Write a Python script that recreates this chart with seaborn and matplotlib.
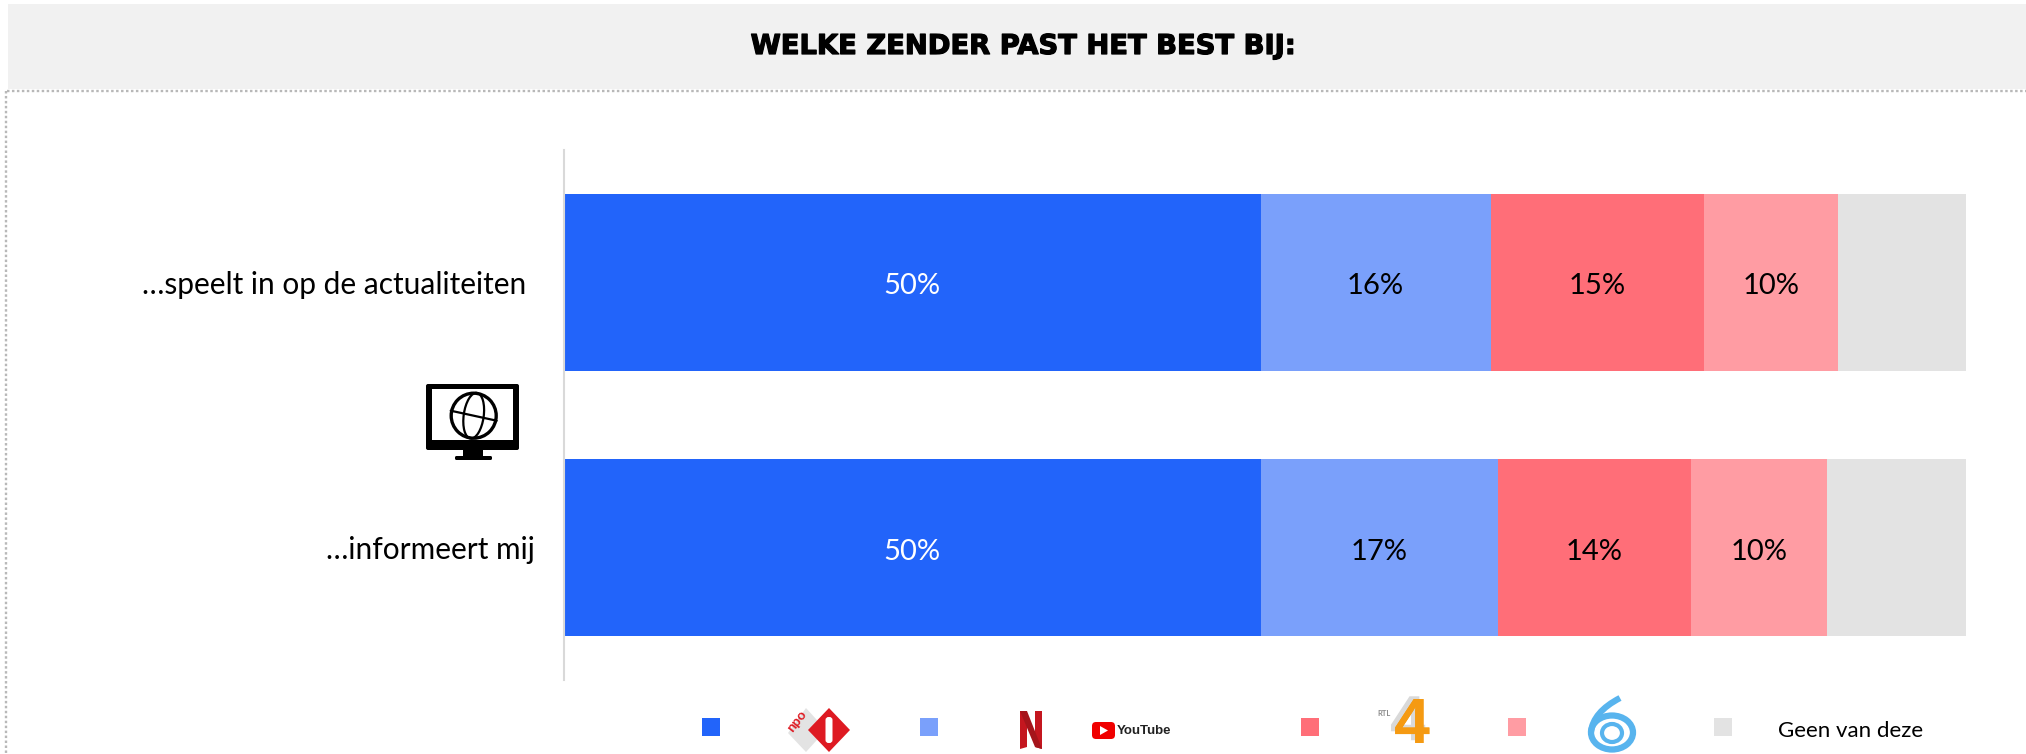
import numpy as np
import matplotlib
matplotlib.use("Agg")
import matplotlib.pyplot as plt
import seaborn as sns
from matplotlib.patches import Rectangle, Polygon, Ellipse, FancyBboxPatch, PathPatch, Circle
from matplotlib.path import Path
from matplotlib.transforms import ScaledTranslation
import matplotlib.patheffects as pe

categories = ["…speelt in op de actualiteiten", "…informeert mij"]
series_names = ["NPO 1", "Netflix / YouTube", "RTL 4", "SBS 6", "Geen van deze"]
npo1 = [49.7, 49.7]
netflix_youtube = [16.4, 16.9]
rtl4 = [15.2, 13.8]
sbs6 = [9.6, 9.7]
geen = [9.1, 9.9]
colors = ["#2264FA", "#7AA0FB", "#FF6E78", "#FF9CA3", "#E3E3E3"]
title = "WELKE ZENDER PAST HET BEST BIJ:"

sns.set_theme(style="white")
plt.rcParams["font.family"] = ["Lato", "DejaVu Sans"]

W, H = 2026, 754
fig = plt.figure(figsize=(W / 100, H / 100), dpi=100, facecolor="white")

# overlay in pixel coordinates for decoration
ov = fig.add_axes([0, 0, 1, 1], zorder=0)
ov.set_xlim(0, W); ov.set_ylim(H, 0); ov.axis("off")

ax = fig.add_axes([563.5 / W, 1 - 680 / H, (1966 - 563.5) / W, 530 / H], zorder=2)
ax.patch.set_alpha(0)

table = np.array([npo1, netflix_youtube, rtl4, sbs6, geen])
cum = table.cumsum(axis=0)
for i in range(len(series_names) - 1, -1, -1):
    sns.barplot(x=cum[i], y=categories, color=colors[i], width=0.668, orient="h",
                ax=ax, saturation=1, linewidth=0, errorbar=None)
ax.set_xlim(0, cum[-1].max())
ax.set_ylim(1.5, -0.5)
ax.set_xlabel(""); ax.set_ylabel("")
ax.xaxis.set_visible(False)
for s in ["top", "right", "bottom"]:
    ax.spines[s].set_visible(False)
ax.spines["left"].set_color("#D9D9D9")
ax.spines["left"].set_linewidth(1.5)
ax.tick_params(axis="y", length=0, pad=0, labelsize=21.5, labelcolor="black")
labels = ax.get_yticklabels()
labels[0].set_x(-37 / 1402.5)
labels[1].set_x(-29 / 1402.5)

down = ScaledTranslation(0, -4 / 100, fig.dpi_scale_trans)
for i in range(len(series_names) - 1):
    for r in range(len(categories)):
        mid = cum[i][r] - table[i][r] / 2
        ax.text(mid, r, f"{table[i][r]:.0f}%", ha="center", va="center", fontsize=21,
                color="white" if i == 0 else "black", transform=ax.transData + down)

# header
ov.add_patch(Rectangle((8, 4), W - 8, 85, fc="#F1F1F1", ec="none"))
ov.plot([7, W], [91, 91], color="#B8B8B8", lw=1.7, ls=(0, (1.05, 1.05)))
ov.plot([6, 6], [91, H], color="#B8B8B8", lw=1.7, ls=(0, (1.05, 1.05)))
ov.text(1023, 47, title, ha="center", va="center", fontsize=19.7, color="black",
        family="DejaVu Sans", weight="bold",
        path_effects=[pe.withStroke(linewidth=0.9, foreground="black")])

# legend swatches
for x0, c in zip([702, 920, 1301, 1508, 1714], colors):
    ov.add_patch(Rectangle((x0, 718), 18, 18, fc=c, ec="none"))
ov.text(1778, 731, series_names[4], ha="left", va="center", fontsize=16, color="black")

# NPO 1 logo
ov.add_patch(Polygon([[806, 708], [826, 730], [806, 752], [788, 733]], fc="#E3E3E3", ec="none"))
ov.add_patch(Polygon([[829, 708], [850, 730], [829, 752], [808, 730]], fc="#DE1A22", ec="none"))
ov.add_patch(FancyBboxPatch((825.5, 717), 7, 26, boxstyle="round,pad=0,rounding_size=3", fc="white", ec="none"))
ov.text(797, 721, "npo", rotation=52, ha="center", va="center", fontsize=10, color="#DE1A22", weight="bold")

# Netflix logo
ov.add_patch(Polygon([[1020, 711], [1027, 711], [1027, 747], [1020, 749]], fc="#C4161F", ec="none"))
ov.add_patch(Polygon([[1035, 711], [1042, 711], [1042, 749], [1035, 747]], fc="#C4161F", ec="none"))
ov.add_patch(Polygon([[1020, 711], [1027, 711], [1042, 749], [1035, 747]], fc="#A5141B", ec="none"))

# YouTube logo
ov.add_patch(FancyBboxPatch((1092, 722), 23, 17, boxstyle="round,pad=0,rounding_size=4", fc="#F00000", ec="none"))
ov.add_patch(Polygon([[1100, 726], [1100, 735], [1108, 730.5]], fc="white", ec="none"))
ov.text(1117, 731, "YouTube", ha="left", va="center", fontsize=9.5, color="#222222",
        family="Liberation Sans", weight="bold")

# RTL 4 logo
ov.text(1412, 726, "4", ha="center", va="center", fontsize=46, weight="bold", color="#F59A12",
        family="Liberation Sans",
        path_effects=[pe.withSimplePatchShadow(offset=(-3, 2), shadow_rgbFace="#D9D9D9", alpha=1), pe.Normal()])
ov.text(1391, 713, "RTL", ha="right", va="center", fontsize=5.5, color="#8A8A8A", weight="bold")

# SBS 6 logo
blue6 = "#58B4EE"
ov.add_patch(Ellipse((1612, 732.5), 42, 34, fc="none", ec=blue6, lw=4.5))
ov.add_patch(Ellipse((1612, 733), 20, 18, fc="none", ec=blue6, lw=3))
curve = Path([(1591, 732), (1593, 712), (1620, 698)], [Path.MOVETO, Path.CURVE3, Path.CURVE3])
ov.add_patch(PathPatch(curve, fc="none", ec=blue6, lw=4.5))

# monitor icon with globe
ov.add_patch(FancyBboxPatch((426, 384), 93, 66, boxstyle="round,pad=0,rounding_size=2", fc="black", ec="none"))
ov.add_patch(Rectangle((432, 389), 81, 51, fc="white", ec="none"))
ov.add_patch(Rectangle((463, 450), 20, 7, fc="black", ec="none"))
ov.add_patch(FancyBboxPatch((455, 456), 37, 4, boxstyle="round,pad=0,rounding_size=1.5", fc="black", ec="none"))
gx, gy = 473.7, 415.7
ov.add_patch(Circle((gx, gy), 22.5, fc="none", ec="black", lw=2.4))
ov.add_patch(Ellipse((gx, gy), 20, 46, angle=8, fc="none", ec="black", lw=1.6))
ov.plot([gx - 23, gx + 23], [gy - 5, gy + 5], color="black", lw=1.6)

fig.savefig("out.png", dpi=100, facecolor="white")
